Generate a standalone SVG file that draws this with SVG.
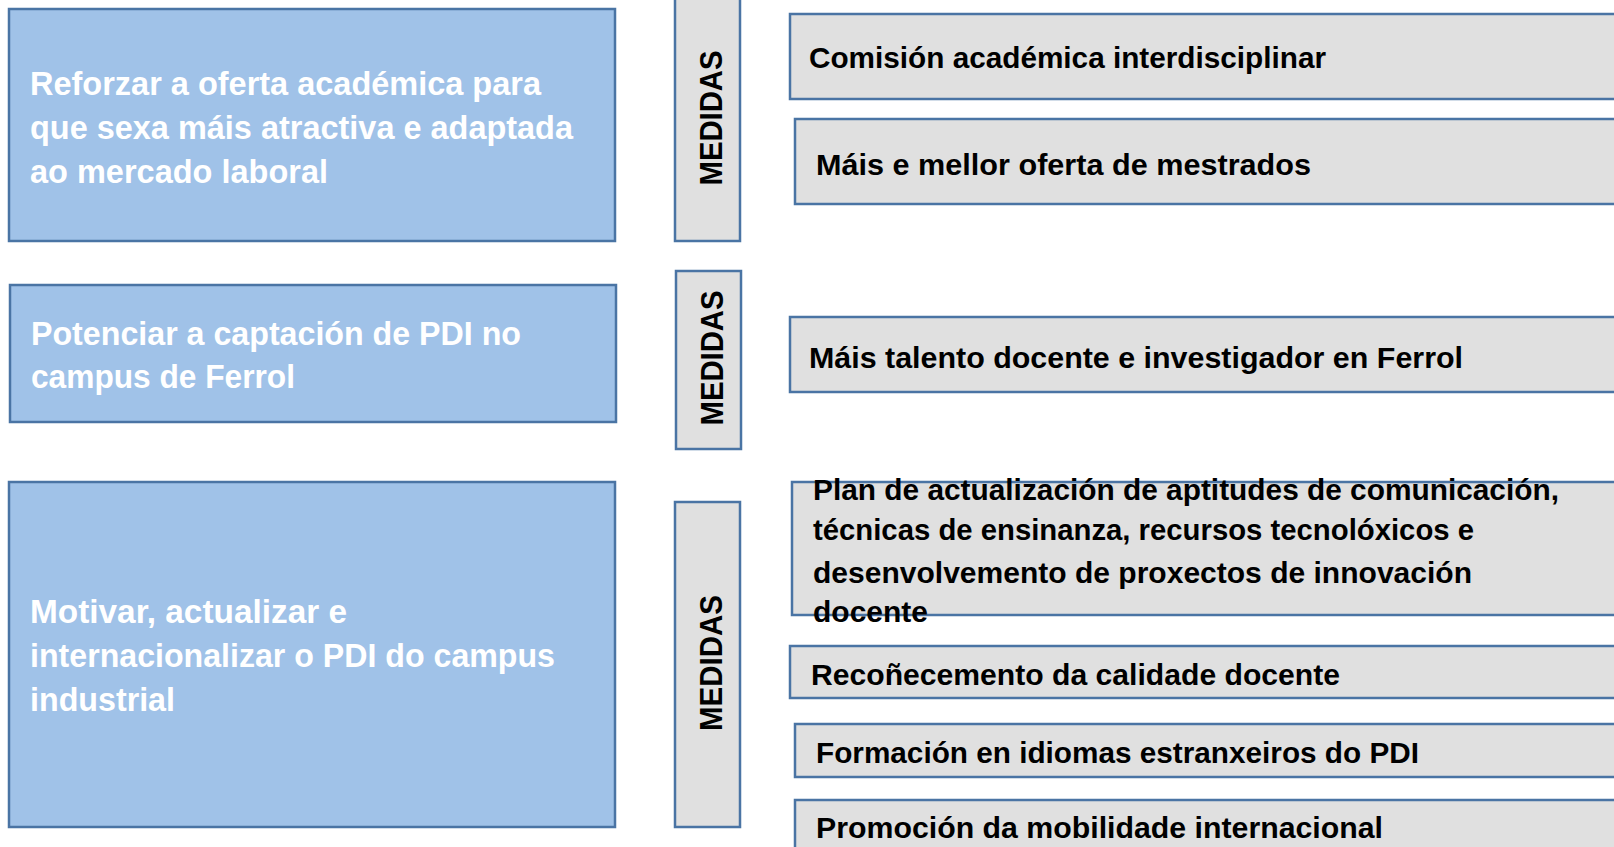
<svg xmlns="http://www.w3.org/2000/svg" width="1614" height="847" viewBox="0 0 1614 847">
<style>
.goal{fill:#A0C2E8;stroke:#4A74A4;stroke-width:2.5}
.med{fill:#E0E0E0;stroke:#4A74A4;stroke-width:2.5}
.item{fill:#E0E0E0;stroke:#4A74A4;stroke-width:2.5}
.gt{font-family:"Liberation Sans",Arial,sans-serif;font-weight:bold;font-size:33px;fill:#FFFFFF}
.mt{font-family:"Liberation Sans",Arial,sans-serif;font-weight:bold;font-size:32px;fill:#000000;text-anchor:middle}
.it{font-family:"Liberation Sans",Arial,sans-serif;font-weight:bold;font-size:29.5px;fill:#000000}
</style>
<rect width="1614" height="847" fill="#FFFFFF"/>
<g id="connectors"></g>

<g id="goal1">
<rect class="goal" x="9" y="9" width="606" height="232"/>
<text class="gt" x="30" y="95" textLength="511" lengthAdjust="spacingAndGlyphs">Reforzar a oferta académica para</text>
<text class="gt" x="30" y="139" textLength="543" lengthAdjust="spacingAndGlyphs">que sexa máis atractiva e adaptada</text>
<text class="gt" x="30" y="183" textLength="298" lengthAdjust="spacingAndGlyphs">ao mercado laboral</text>
</g>

<g id="goal2">
<rect class="goal" x="10" y="285" width="606" height="137"/>
<text class="gt" x="31" y="345" textLength="490" lengthAdjust="spacingAndGlyphs">Potenciar a captación de PDI no</text>
<text class="gt" x="31" y="388" textLength="264" lengthAdjust="spacingAndGlyphs">campus de Ferrol</text>
</g>

<g id="goal3">
<rect class="goal" x="9" y="482" width="606" height="345"/>
<text class="gt" x="30" y="623" textLength="317" lengthAdjust="spacingAndGlyphs">Motivar, actualizar e</text>
<text class="gt" x="30" y="667" textLength="525" lengthAdjust="spacingAndGlyphs">internacionalizar o PDI do campus</text>
<text class="gt" x="30" y="711" textLength="145" lengthAdjust="spacingAndGlyphs">industrial</text>
</g>

<g id="medidas1">
<rect class="med" x="675" y="-5" width="65" height="246"/>
<text class="mt" transform="translate(722 118) rotate(-90)" x="0" y="0" textLength="135" lengthAdjust="spacingAndGlyphs">MEDIDAS</text>
</g>

<g id="medidas2">
<rect class="med" x="676" y="271" width="65" height="178"/>
<text class="mt" transform="translate(723 358) rotate(-90)" x="0" y="0" textLength="135" lengthAdjust="spacingAndGlyphs">MEDIDAS</text>
</g>

<g id="medidas3">
<rect class="med" x="675" y="502" width="65" height="325"/>
<text class="mt" transform="translate(722 663) rotate(-90)" x="0" y="0" textLength="136" lengthAdjust="spacingAndGlyphs">MEDIDAS</text>
</g>

<g id="item1">
<rect class="item" x="790" y="14" width="840" height="85"/>
<text class="it" x="809" y="68" textLength="517" lengthAdjust="spacingAndGlyphs">Comisión académica interdisciplinar</text>
</g>

<g id="item2">
<rect class="item" x="795" y="119" width="840" height="85"/>
<text class="it" x="816" y="175" textLength="495" lengthAdjust="spacingAndGlyphs">Máis e mellor oferta de mestrados</text>
</g>

<g id="item3">
<rect class="item" x="790" y="317" width="840" height="75"/>
<text class="it" x="809" y="368" textLength="654" lengthAdjust="spacingAndGlyphs">Máis talento docente e investigador en Ferrol</text>
</g>

<g id="item4">
<rect class="item" x="792" y="482" width="840" height="133"/>
<text class="it" x="813" y="500" textLength="746" lengthAdjust="spacingAndGlyphs">Plan de actualización de aptitudes de comunicación,</text>
<text class="it" x="813" y="540" textLength="661" lengthAdjust="spacingAndGlyphs">técnicas de ensinanza, recursos tecnolóxicos e</text>
<text class="it" x="813" y="583" textLength="659" lengthAdjust="spacingAndGlyphs">desenvolvemento de proxectos de innovación</text>
<text class="it" x="813" y="622" textLength="115" lengthAdjust="spacingAndGlyphs">docente</text>
</g>

<g id="item5">
<rect class="item" x="790" y="646" width="840" height="52"/>
<text class="it" x="811" y="685" textLength="529" lengthAdjust="spacingAndGlyphs">Recoñecemento da calidade docente</text>
</g>

<g id="item6">
<rect class="item" x="795" y="724" width="840" height="53"/>
<text class="it" x="816" y="763" textLength="603" lengthAdjust="spacingAndGlyphs">Formación en idiomas estranxeiros do PDI</text>
</g>

<g id="item7">
<rect class="item" x="795" y="800" width="840" height="60"/>
<text class="it" x="816" y="838" textLength="567" lengthAdjust="spacingAndGlyphs">Promoción da mobilidade internacional</text>
</g>
</svg>
